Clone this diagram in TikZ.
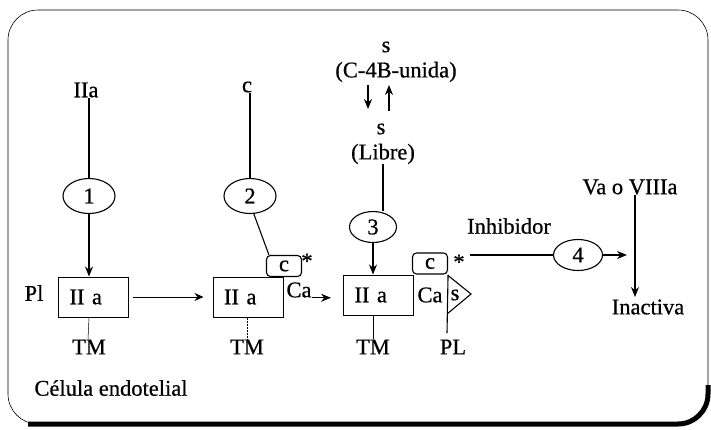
\documentclass[tikz,border=0pt]{standalone}
\usepackage{fontspec}
\setmainfont[FakeBold=0.6]{Liberation Serif}
\usetikzlibrary{shapes.geometric,arrows.meta}
\begin{document}
\begin{tikzpicture}[x=1pt,y=-1pt,
  txt/.style={font=\fontsize{22.5}{26}\selectfont, inner sep=0pt},
  ell/.style={ellipse, draw, line width=1.1pt, minimum width=52pt, minimum height=35pt, inner sep=0pt, font=\fontsize{22.5}{26}\selectfont},
  box/.style={rectangle, draw, line width=1pt, minimum height=40pt, text width=48pt, inner xsep=11pt, inner ysep=0pt, align=left, font=\fontsize{22.5}{26}\selectfont},
  cbox/.style={rectangle, rounded corners=4pt, draw, line width=1.1pt, minimum width=35pt, minimum height=21pt, inner sep=0pt, font=\fontsize{22.5}{26}\selectfont},
  ln/.style={line width=1.1pt},
  tick/.style={line width=0.5pt},
  arr/.style={line width=1.1pt, -{Stealth[length=10pt,width=8pt]}},
  arrt/.style={line width=0.8pt, -{Stealth[length=9pt,width=8pt,inset=3pt]}},
]
\useasboundingbox (0,0) rectangle (711,429);
% frame
\draw[line width=0.6pt, rounded corners=30pt] (8,10) rectangle (708,424);
\draw[line width=5pt, rounded corners=30pt] (28,424) -- (708,424) -- (708,385);

% top labels and ellipses 1, 2
\node[txt] (iia) at (86,90) {IIa};
\node[txt] (cl) at (247,87) {c};
\node[ell] (e1) at (89,196) {1};
\node[ell] (e2) at (250,196) {2};

% boxes
\node[box] (b1) at (93.5,297) {II a};
\node[txt] (pl) at (34,293) {Pl};
\node[box] (b2) at (248,297) {II a};
\node[cbox] (c2) at (284,266) {c};
\node[txt] (st2) at (307,261) {*};
\node[txt] (ca2) at (299,290) {Ca};
\node[box] (b3) at (378.5,295) {II a};
\node[cbox] (c3) at (430,263.5) {c};
\node[txt] (ca3) at (430,295) {Ca};
\node[txt] (st3) at (459,262) {*};
\node[txt] (sr) at (455,295) {s};
\node[txt] (plb) at (453,347) {PL};
\node[txt] (tm1) at (89,347) {TM};
\node[txt] (tm2) at (247,347) {TM};
\node[txt] (tm3) at (373,347) {TM};
\node[txt] (cel) at (111,388) {Célula endotelial};

% top middle
\node[txt] (s1) at (386,47) {s};
\node[txt] (unida) at (396,72) {(C-4B-unida)};
\node[txt] (s2) at (381,129) {s};
\node[txt] (libre) at (383,154) {(Libre)};
\node[ell, minimum width=47pt, minimum height=31pt] (e3) at (373,227) {3};

% right
\node[txt] (inh) at (509,226) {Inhibidor};
\node[ell, minimum width=49pt, minimum height=31pt] (e4) at (578,255) {4};
\node[txt] (va) at (630,187) {Va o VIIIa};
\node[txt] (ina) at (648,307) {Inactiva};

\coordinate (vx) at (635,0);
\coordinate (i0) at ([xshift=5pt]st3.east);
\coordinate (a4) at (627,0);
\coordinate (pl0) at (447,333);
\coordinate (vb) at (635,297);
\coordinate (dn0) at (368,85);
\coordinate (dn1) at (368,109);
\coordinate (up0) at (389,111);
\coordinate (up1) at (389,85);

% connectors
\draw[ln] (e1.north |- iia.south) -- (e1.north);
\draw[arr] (e1.south) -- (e1.south |- b1.north);
\draw[ln] (e2.north |- cl.south) -- (e2.north);
\draw[ln] (e2.-78) -- ([xshift=3pt]c2.north west);
\draw[arrt] ([xshift=4pt]b1.east) -- ([xshift=-9pt]b2.west);
\draw[arr] (ca2.south east) -- ([xshift=-12pt]b3.west |- ca2.south east);
\draw[tick] (tm1.north |- b1.south) -- ([xshift=-1pt]tm1.north);
\draw[tick, densely dotted] (tm2.north |- b2.south) -- (tm2.north);
\draw[tick] (tm3.north |- b3.south) -- (tm3.north);

\draw[arr] (dn0) -- (dn1);
\draw[arr] (up0) -- (up1);
\draw[ln] (libre.south) -- (libre.south |- e3.north);
\draw[arr] (e3.south) -- (e3.south |- b3.north);

\draw[ln] (c3.south east) -- (pl0);
\draw[ln] ([yshift=-1pt]c3.south east) -- (471,294) -- (447,314);

\draw[ln] (i0 |- e4.west) -- (e4.west);
\draw[arr] (e4.east) -- (a4 |- e4.east);
\draw[arr] (vx |- va.south) -- (vb);
\end{tikzpicture}
\end{document}
